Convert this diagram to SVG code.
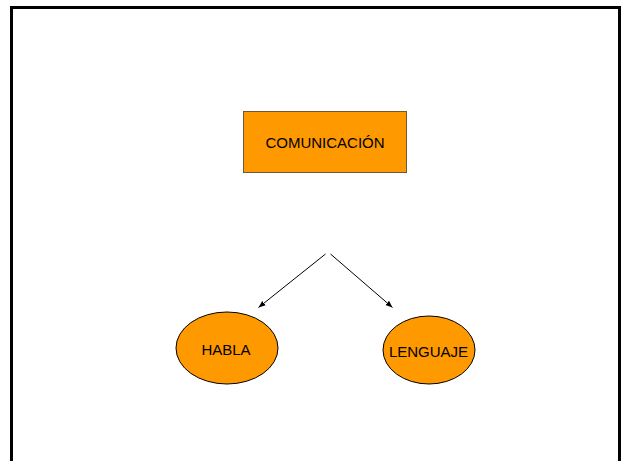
<svg xmlns="http://www.w3.org/2000/svg" width="623" height="461" viewBox="0 0 623 461">
  <style>
    .node { fill: #FF9900; }
    .label { font-family: "Liberation Sans", Arial, sans-serif; font-size: 15px; fill: #000; text-anchor: middle; dominant-baseline: central; }
    .conn { stroke: #000; stroke-width: 1; fill: none; marker-end: url(#arrow); }
  </style>
  <defs>
    <marker id="arrow" viewBox="0 0 10 10" refX="10" refY="5" markerWidth="7" markerHeight="7" markerUnits="userSpaceOnUse" orient="auto">
      <path d="M0,1 L10,5 L0,9 Z" fill="#000"/>
    </marker>
  </defs>
  <rect width="623" height="461" fill="#fff"/>
  <path d="M11.5,465 V7.5 H619.5 V465" fill="none" stroke="#000" stroke-width="3"/>
  <g id="comunicacion">
    <rect class="node" x="243.5" y="111.5" width="163" height="61" stroke="#6b5a3a" stroke-width="1"/>
    <text class="label" x="325" y="142">COMUNICACIÓN</text>
  </g>
  <g id="habla">
    <ellipse class="node" cx="227" cy="348" rx="51" ry="36" stroke="#000" stroke-width="1"/>
    <text class="label" x="226" y="349">HABLA</text>
  </g>
  <g id="lenguaje">
    <ellipse class="node" cx="429" cy="350" rx="46" ry="34" stroke="#000" stroke-width="1"/>
    <text class="label" x="428.5" y="351">LENGUAJE</text>
  </g>
  <g id="connectors">
    <line class="conn" x1="325.5" y1="254" x2="258.5" y2="307.5"/>
    <line class="conn" x1="330.5" y1="254" x2="392.5" y2="307.5"/>
  </g>
</svg>
